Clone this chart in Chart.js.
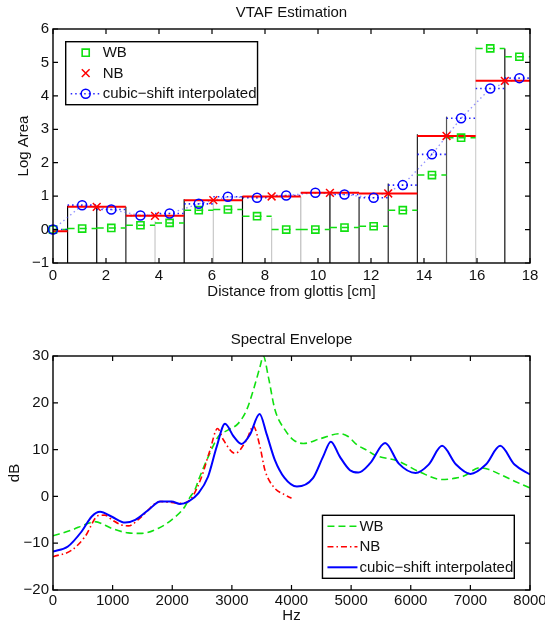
<!DOCTYPE html>
<html>
<head>
<meta charset="utf-8">
<title>VTAF Estimation / Spectral Envelope</title>
<script src="https://cdn.jsdelivr.net/npm/chart.js@4.4.1/dist/chart.umd.min.js"></script>
<style>
  body { margin: 0; background: #fff; }
  #wrap { position: relative; width: 545px; height: 626px; overflow: hidden; }
  #vtaf { position: absolute; left: 0; top: 0; }
  #envelope { position: absolute; left: 0; top: 310px; }
</style>
</head>
<body>
<div id="wrap">
  <canvas id="vtaf" width="545" height="305"></canvas>
  <canvas id="envelope" width="545" height="316"></canvas>
</div>
<script>
// ---- VTAF: log area per tube section, along the tract (cm) ----
var wbCenters = [0, 1.1, 2.2, 3.3, 4.4, 5.5, 6.6, 7.7, 8.8, 9.9, 11.0, 12.1, 13.2, 14.3, 15.4, 16.5, 17.6];
var wbLogArea = [0.0, 0.03, 0.05, 0.13, 0.2, 0.58, 0.6, 0.4, 0.0, 0.0, 0.06, 0.1, 0.58, 1.63, 2.75, 5.42, 5.17];
var nbCenters = [-0.55, 1.65, 3.85, 6.05, 8.25, 10.45, 12.65, 14.85, 17.05];
var nbLogArea = [-0.05, 0.68, 0.41, 0.88, 0.99, 1.1, 1.08, 2.8, 4.45];
var csLogArea = [0.0, 0.73, 0.6, 0.42, 0.48, 0.77, 0.98, 0.95, 1.02, 1.1, 1.05, 0.95, 1.33, 2.25, 3.33, 4.22, 4.53];
var wbSectionLen = 1.1;
var nbSectionLen = 2.2;
// section boundaries and how high each boundary line reaches
var edgeX = [0.55, 1.65, 2.75, 3.85, 4.95, 6.05, 7.15, 8.25, 9.35, 10.45, 11.55, 12.65, 13.75, 14.85, 15.95, 17.05];
var edgeTop = [0.71, 0.7, 0.68, 0.25, 0.91, 0.88, 1.0, 0.35, 0.98, 1.12, 0.98, 1.38, 2.85, 3.38, 5.47, 5.42];

// ---- spectral envelopes (dB over Hz) ----
var wbFreq = [0, 310, 540, 700, 980, 1260, 1490, 1770, 1990, 2210, 2300, 2380, 2440, 2605, 2773, 2940, 3108, 3248, 3360, 3472, 3527, 3611, 3723, 3891, 4030, 4198, 4500, 4800, 4950, 5100, 5260, 5400, 5780, 6170, 6520, 6750, 6900, 7150, 7300, 7500, 7750, 8000];
var wbDb = [-8.4, -7.2, -6.0, -5.4, -6.8, -7.8, -7.9, -6.8, -5.0, -2.2, -0.1, 1.4, 3.5, 8.5, 12.8, 14.2, 15.6, 18.5, 22.7, 27.7, 30.0, 25.6, 18.5, 14.2, 12.1, 11.3, 12.4, 13.4, 12.8, 11.0, 9.9, 8.8, 7.6, 5.1, 3.6, 3.9, 4.4, 6.1, 5.8, 4.7, 3.2, 1.8];
var nbFreq = [0, 313, 537, 760, 870, 1000, 1150, 1263, 1487, 1795, 1990, 2158, 2325, 2493, 2633, 2760, 2857, 3053, 3248, 3360, 3472, 3555, 3695, 3891, 4000];
var nbDb = [-12.9, -11.5, -8.6, -4.1, -4.0, -5.1, -6.1, -6.3, -4.3, -1.1, -1.3, -1.5, -0.3, 4.2, 9.9, 14.5, 12.1, 9.2, 12.1, 15.0, 10.6, 5.6, 2.1, 0.3, -0.4];
var csFreq = [0, 250, 480, 650, 790, 980, 1210, 1380, 1600, 1800, 1990, 2130, 2270, 2440, 2600, 2745, 2885, 3030, 3160, 3300, 3465, 3583, 3720, 3880, 4090, 4360, 4530, 4660, 4810, 4980, 5120, 5320, 5570, 5800, 6080, 6300, 6525, 6760, 7000, 7260, 7500, 7740, 8000];
var csDb = [-11.8, -10.7, -7.5, -4.3, -3.3, -4.3, -5.6, -5.0, -2.9, -1.1, -1.1, -1.6, -1.1, 0.7, 4.2, 10.6, 15.5, 12.8, 11.2, 13.1, 17.6, 13.3, 7.8, 4.0, 2.1, 3.9, 8.5, 11.7, 8.5, 5.6, 5.1, 7.1, 11.4, 7.0, 5.0, 6.8, 10.8, 6.8, 4.8, 6.8, 10.8, 6.8, 4.7];

// styling
var ink = '#111';
var green = '#10e010';
var red = '#ff0000';
var blue = '#0000ff';
var edgeColors = ['#000', '#000', '#222', '#c8c8c8', '#000', '#c8c8c8', '#000', '#c8c8c8', '#bdbdbd', '#000', '#222', '#222', '#222', '#555', '#d0d0d0', '#111'];
var fontFamily = "'Liberation Sans', Arial, Helvetica, sans-serif";
var textSize = 15;

Chart.defaults.font.family = fontFamily;
Chart.defaults.color = ink;

// helpers that turn the arrays into chart points
function steps(centers, values, width) {
	var pts = [];
	for (var i = 0; i < centers.length; i++) {
		pts.push({x: centers[i] - width / 2, y: values[i]});
		pts.push({x: centers[i] + width / 2, y: values[i]});
		pts.push({x: centers[i] + width / 2, y: null});
	}
	return pts;
}

function pairs(xs, ys, xMin) {
	var pts = [];
	for (var i = 0; i < xs.length; i++) {
		if (xMin === undefined || xs[i] >= xMin) pts.push({x: xs[i], y: ys[i]});
	}
	return pts;
}

function edges() {
	var pts = [];
	for (var i = 0; i < edgeX.length; i++) {
		pts.push({x: edgeX[i], y: -1}, {x: edgeX[i], y: edgeTop[i]}, {x: edgeX[i], y: null});
	}
	return pts;
}

function minusSign(v) {
	return String(v).replace('-', '\u2212');
}

// MATLAB-like box: frame plus inward ticks on all four sides
var boxAxes = {
	id: 'boxAxes',
	afterDatasetsDraw: function(chart) {
		var ctx = chart.ctx, a = chart.chartArea;
		var xs = chart.scales.x, ys = chart.scales.y;
		var len = 5;
		ctx.save();
		ctx.strokeStyle = '#000';
		ctx.lineWidth = 1.2;
		ctx.setLineDash([]);
		ctx.beginPath();
		xs.ticks.forEach(function(t) {
			var p = xs.getPixelForValue(t.value);
			ctx.moveTo(p, a.bottom); ctx.lineTo(p, a.bottom - len);
			ctx.moveTo(p, a.top); ctx.lineTo(p, a.top + len);
		});
		ys.ticks.forEach(function(t) {
			var p = ys.getPixelForValue(t.value);
			ctx.moveTo(a.left, p); ctx.lineTo(a.left + len, p);
			ctx.moveTo(a.right, p); ctx.lineTo(a.right - len, p);
		});
		ctx.stroke();
		ctx.lineWidth = 1.4;
		ctx.strokeRect(a.left, a.top, a.right - a.left, a.bottom - a.top);
		ctx.restore();
	}
};

function drawMarker(ctx, style, r, x, y) {
	var s;
	ctx.beginPath();
	if (style === 'rect') {
		s = r * Math.SQRT1_2;
		ctx.rect(x - s, y - s, 2 * s, 2 * s);
	} else if (style === 'crossRot') {
		s = r * Math.SQRT1_2;
		ctx.moveTo(x - s, y - s); ctx.lineTo(x + s, y + s);
		ctx.moveTo(x - s, y + s); ctx.lineTo(x + s, y - s);
	} else {
		ctx.arc(x, y, r, 0, Math.PI * 2);
	}
	ctx.stroke();
}

// legend inside the plot, in a framed white box
var boxLegend = {
	id: 'boxLegend',
	afterDraw: function(chart, args, opts) {
		if (!opts.items) return;
		var ctx = chart.ctx, a = chart.chartArea;
		var byLabel = {};
		chart.data.datasets.forEach(function(ds) { byLabel[ds.label] = ds; });
		ctx.save();
		ctx.font = textSize + 'px ' + fontFamily;
		var textW = 0;
		opts.items.forEach(function(it) { textW = Math.max(textW, ctx.measureText(it.text).width); });
		var w = 37 + textW + 1;
		var h = 2 * 11 + 20.5 * (opts.items.length - 1);
		var x0, y0;
		if (opts.corner === 'topleft') {
			x0 = a.left + opts.dx; y0 = a.top + opts.dy;
		} else {
			x0 = a.right - opts.dx - w; y0 = a.bottom - opts.dy - h;
		}
		ctx.fillStyle = '#fff';
		ctx.fillRect(x0, y0, w, h);
		ctx.strokeStyle = '#000';
		ctx.lineWidth = 1.4;
		ctx.strokeRect(x0, y0, w, h);
		opts.items.forEach(function(it, i) {
			var yc = y0 + 11 + 20.5 * i;
			if (it.line) {
				var ds = byLabel[it.line];
				ctx.strokeStyle = ds.borderColor;
				ctx.lineWidth = ds.borderWidth;
				ctx.setLineDash(ds.borderDash || []);
				ctx.beginPath();
				ctx.moveTo(x0 + 5, yc);
				ctx.lineTo(x0 + 35, yc);
				ctx.stroke();
				ctx.setLineDash([]);
			}
			if (it.marker) {
				var md = byLabel[it.marker];
				ctx.strokeStyle = md.pointBorderColor;
				ctx.lineWidth = md.pointBorderWidth;
				drawMarker(ctx, md.pointStyle, md.pointRadius, x0 + 20, yc);
			}
			ctx.fillStyle = ink;
			ctx.textBaseline = 'middle';
			ctx.textAlign = 'left';
			ctx.fillText(it.text, x0 + 37, yc + 0.5);
		});
		ctx.restore();
	}
};

function axes(o) {
	return {
		x: {
			type: 'linear', min: o.xMin, max: o.xMax,
			ticks: { stepSize: o.xStep, padding: o.xTickPad, maxRotation: 0, autoSkip: false, color: ink,
				font: { size: textSize }, callback: minusSign },
			grid: { display: false, drawTicks: false },
			border: { display: false },
			title: { display: true, text: o.xTitle, color: ink, font: { size: textSize },
				padding: { top: 0, bottom: o.xTitlePad } },
			afterFit: function(s) { s.height = o.xHeight; s.paddingLeft = 0; s.paddingRight = 0; }
		},
		y: {
			type: 'linear', min: o.yMin, max: o.yMax,
			ticks: { stepSize: o.yStep, padding: 4, color: ink, font: { size: textSize }, callback: minusSign },
			grid: { display: false, drawTicks: false },
			border: { display: false },
			title: { display: true, text: o.yTitle, color: ink, font: { size: textSize },
				padding: { top: o.yTitlePad, bottom: 0 } },
			afterFit: function(s) { s.width = 53; s.paddingTop = 0; s.paddingBottom = 0; }
		}
	};
}

function titleOpts(text, padTop, padBottom) {
	return { display: true, text: text, color: ink, fullSize: false,
		font: { size: textSize, weight: 'normal' }, padding: { top: padTop, bottom: padBottom } };
}

// top: vocal tract area function
new Chart(document.getElementById('vtaf'), {
	type: 'line',
	data: {
		datasets: [
			{ label: 'edges', data: edges(), order: 8, borderWidth: 1.2, pointRadius: 0, borderColor: '#000',
				segment: { borderColor: function(c) { return edgeColors[Math.floor(c.p0DataIndex / 3)]; } } },
			{ label: 'wb-steps', data: steps(wbCenters, wbLogArea, wbSectionLen), order: 7,
				borderColor: green, borderWidth: 1.5, borderDash: [7, 5], pointRadius: 0 },
			{ label: 'cs-link', data: pairs(wbCenters, csLogArea), order: 6,
				borderColor: 'rgba(60,60,255,0.55)', borderWidth: 1.4, borderDash: [1.5, 3], pointRadius: 0 },
			{ label: 'cs-steps', data: steps(wbCenters, csLogArea, wbSectionLen), order: 5,
				borderColor: 'rgba(0,0,255,0.85)', borderWidth: 1.6, borderDash: [1.5, 3], pointRadius: 0 },
			{ label: 'nb-steps', data: steps(nbCenters, nbLogArea, nbSectionLen), order: 4,
				borderColor: red, borderWidth: 2, pointRadius: 0 },
			{ label: 'wb-marks', data: pairs(wbCenters, wbLogArea, 0), order: 3, showLine: false, clip: false,
				pointStyle: 'rect', pointRadius: 5, pointBorderColor: green, pointBorderWidth: 1.6,
				pointBackgroundColor: 'rgba(0,0,0,0)' },
			{ label: 'cs-marks', data: pairs(wbCenters, csLogArea, 0), order: 2, showLine: false, clip: false,
				pointStyle: 'circle', pointRadius: 4.5, pointBorderColor: blue, pointBorderWidth: 1.5,
				pointBackgroundColor: 'rgba(0,0,0,0)' },
			{ label: 'nb-marks', data: pairs(nbCenters, nbLogArea, 0), order: 1, showLine: false, clip: false,
				pointStyle: 'crossRot', pointRadius: 5.5, pointBorderColor: red, pointBorderWidth: 1.5 }
		]
	},
	options: {
		responsive: false, animation: false, devicePixelRatio: 1, events: [],
		layout: { padding: { left: 0, right: 15, top: 0, bottom: 0 } },
		scales: axes({ xMin: 0, xMax: 18, xStep: 2, xTickPad: 3.5, xTitle: 'Distance from glottis [cm]', xTitlePad: 4, xHeight: 42,
			yMin: -1, yMax: 6, yStep: 1, yTitle: 'Log Area', yTitlePad: 15 }),
		plugins: {
			legend: { display: false },
			tooltip: { enabled: false },
			title: titleOpts('VTAF Estimation', 4, 7),
			boxLegend: { corner: 'topleft', dx: 12.7, dy: 12.7, items: [
				{ text: 'WB', marker: 'wb-marks' },
				{ text: 'NB', marker: 'nb-marks' },
				{ text: 'cubic\u2212shift interpolated', line: 'cs-steps', marker: 'cs-marks' }
			] }
		}
	},
	plugins: [boxAxes, boxLegend]
});

// bottom: spectral envelopes
new Chart(document.getElementById('envelope'), {
	type: 'line',
	data: {
		datasets: [
			{ label: 'WB', data: pairs(wbFreq, wbDb), order: 3, borderColor: green, borderWidth: 1.6,
				borderDash: [7, 4], pointRadius: 0, cubicInterpolationMode: 'monotone' },
			{ label: 'NB', data: pairs(nbFreq, nbDb), order: 2, borderColor: red, borderWidth: 1.6,
				borderDash: [6, 3, 1.5, 3], pointRadius: 0, cubicInterpolationMode: 'monotone' },
			{ label: 'cubic-shift', data: pairs(csFreq, csDb), order: 1, borderColor: blue, borderWidth: 2,
				pointRadius: 0, cubicInterpolationMode: 'monotone' }
		]
	},
	options: {
		responsive: false, animation: false, devicePixelRatio: 1, events: [],
		layout: { padding: { left: 0, right: 15, top: 0, bottom: 0 } },
		scales: axes({ xMin: 0, xMax: 8000, xStep: 1000, xTickPad: 2, xTitle: 'Hz', xTitlePad: 1, xHeight: 36,
			yMin: -20, yMax: 30, yStep: 10, yTitle: 'dB', yTitlePad: 6 }),
		plugins: {
			legend: { display: false },
			tooltip: { enabled: false },
			title: titleOpts('Spectral Envelope', 21, 7),
			boxLegend: { corner: 'bottomright', dx: 15.7, dy: 11.7, items: [
				{ text: 'WB', line: 'WB' },
				{ text: 'NB', line: 'NB' },
				{ text: 'cubic\u2212shift interpolated', line: 'cubic-shift' }
			] }
		}
	},
	plugins: [boxAxes, boxLegend]
});
</script>
</body>
</html>
